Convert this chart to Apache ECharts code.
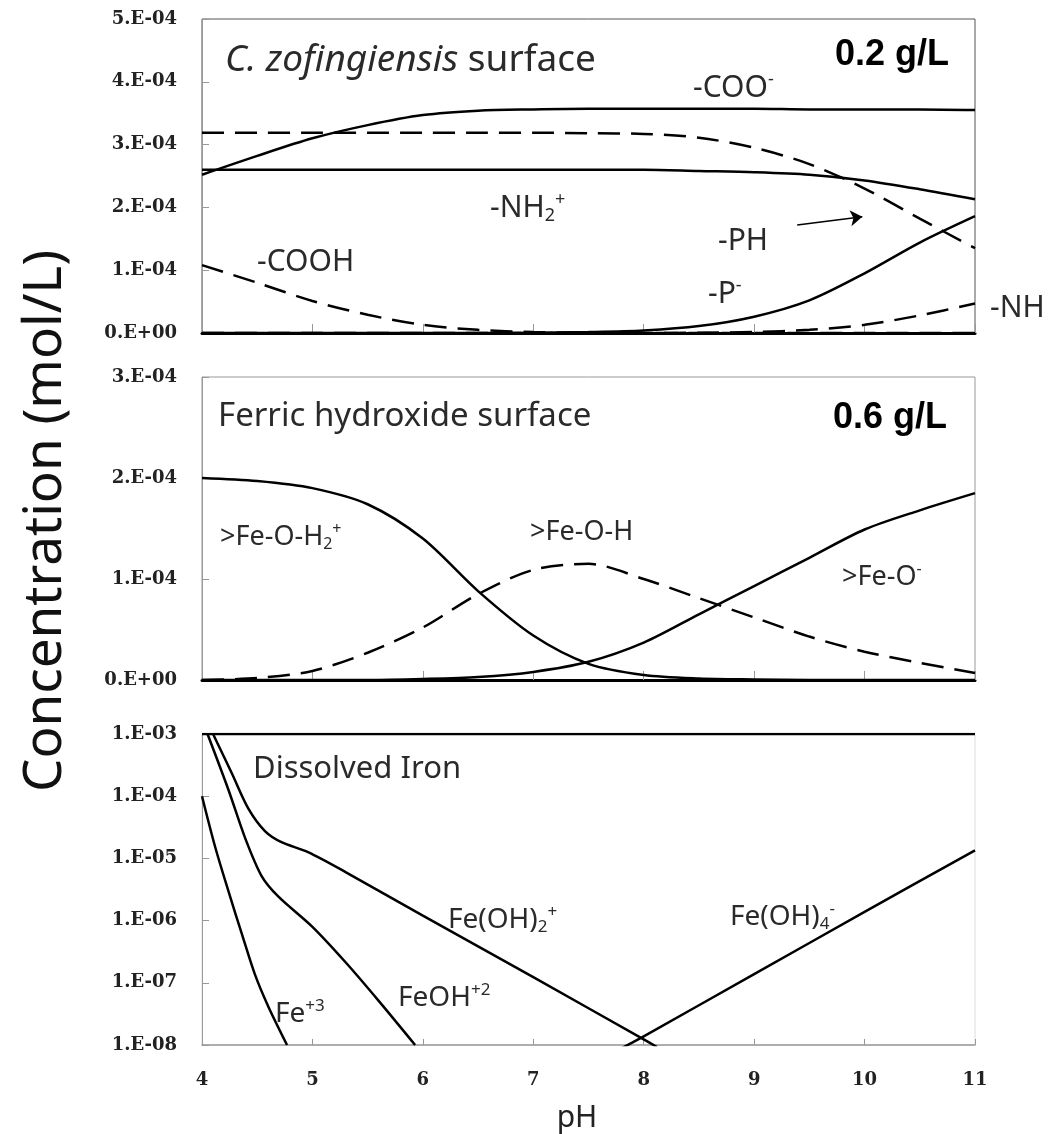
<!DOCTYPE html>
<html>
<head>
<meta charset="utf-8">
<title>Surface and dissolved iron speciation vs pH</title>
<script src="https://cdn.jsdelivr.net/npm/echarts@6/dist/echarts.min.js"></script>
<style>
    html, body { margin: 0; padding: 0; background: #fff; }
    #chart { width: 1050px; height: 1134px; }
</style>
</head>
<body>
<div id="chart"></div>
<script>
// pH grid used by the two surface panels
var pH = [4, 4.5, 5, 5.5, 6, 6.5, 7, 7.5, 8, 8.5, 9, 9.5, 10, 10.5, 11];

// panel 1, C. zofingiensis surface (units of 1E-04 mol/L)
var coo    = [2.52, 2.82, 3.10, 3.31, 3.47, 3.54, 3.56, 3.57, 3.57, 3.57, 3.57, 3.56, 3.56, 3.56, 3.55];
var phGrp  = [3.19, 3.19, 3.19, 3.19, 3.19, 3.19, 3.19, 3.18, 3.17, 3.11, 2.95, 2.69, 2.30, 1.82, 1.35];
var nh2    = [2.60, 2.60, 2.60, 2.60, 2.60, 2.60, 2.60, 2.60, 2.60, 2.58, 2.56, 2.52, 2.43, 2.29, 2.13];
var pMinus = [0, 0, 0, 0, 0, 0, 0.005, 0.015, 0.04, 0.11, 0.26, 0.52, 0.95, 1.44, 1.86];
var nh     = [0, 0, 0, 0, 0, 0, 0, 0, 0, 0.005, 0.015, 0.05, 0.13, 0.28, 0.47];
var cooh   = [1.08, 0.80, 0.51, 0.29, 0.13, 0.05, 0.015, 0.005, 0, 0, 0, 0, 0, 0, 0];

// panel 2, ferric hydroxide surface (units of 1E-04 mol/L)
var feOH2 = [2.00, 1.97, 1.90, 1.74, 1.40, 0.88, 0.44, 0.16, 0.05, 0.015, 0.005, 0, 0, 0, 0];
var feOH  = [0, 0.02, 0.09, 0.27, 0.52, 0.85, 1.09, 1.15, 1.00, 0.81, 0.62, 0.43, 0.28, 0.17, 0.07];
var feO   = [0, 0, 0, 0, 0.01, 0.03, 0.08, 0.18, 0.37, 0.65, 0.93, 1.21, 1.49, 1.68, 1.85];

// panel 3, dissolved iron (mol/L, log scale)
var pHTotal = [4, 11];
var total   = [1e-3, 1e-3];
var pHFe3 = [4.0, 4.12, 4.24, 4.36, 4.48, 4.6, 4.77];
var fe3   = [1.0e-4, 1.51e-5, 2.95e-6, 6.17e-7, 1.35e-7, 4.17e-8, 1.0e-8];
var pHFeOH = [4.05, 4.24, 4.39, 4.54, 4.69, 5.0, 5.3, 5.6, 5.93];
var feOHp2 = [1.0e-3, 1.26e-4, 2.14e-5, 5.2e-6, 2.45e-6, 7.94e-7, 2.14e-7, 5.13e-8, 1.0e-8];
var pHFeOH2 = [4.1, 4.27, 4.42, 4.57, 4.72, 4.96, 5.3, 6.0, 7.0, 8.0, 8.12];
var feOH2p  = [1.0e-3, 2.34e-4, 6.31e-5, 2.75e-5, 1.82e-5, 1.26e-5, 6.03e-6, 1.20e-6, 1.23e-7, 1.23e-8, 9.3e-9];
var pHFeOH4 = [7.8, 8, 9, 10, 11];
var feOH4m  = [8.9e-9, 1.38e-8, 1.38e-7, 1.38e-6, 1.35e-5];

// tick labels
var yTicks1 = ['0.E+00', '1.E-04', '2.E-04', '3.E-04', '4.E-04', '5.E-04'];
var yTicks2 = ['0.E+00', '1.E-04', '2.E-04', '3.E-04'];
var yTicks3 = ['1.E-08', '1.E-07', '1.E-06', '1.E-05', '1.E-04', '1.E-03'];
var xTicks  = ['4', '5', '6', '7', '8', '9', '10', '11'];

var SANS = '"Noto Sans", "Open Sans", sans-serif';
var SERIF = '"DejaVu Serif", serif';
var BOLD = '"Liberation Sans", Arial, sans-serif';

var chart = echarts.init(document.getElementById('chart'));

function curve(name, xs, ys, panel, dashed) {
    return {
        name: name,
        type: 'line',
        xAxisIndex: panel,
        yAxisIndex: panel,
        data: xs.map(function (x, i) { return [x, ys[i]]; }),
        showSymbol: false,
        smooth: 0.3,
        clip: true,
        lineStyle: { color: '#000', width: 2.5, type: dashed ? [22, 11] : 'solid' },
        z: 3
    };
}

function tickLabels(list) {
    return function (value, index) { return list[index]; };
}

function xAxis(panel, withLabels) {
    return {
        type: 'value', gridIndex: panel, min: 4, max: 11, interval: 1,
        axisLine: { onZero: false, lineStyle: withLabels ? { color: '#999', width: 1.5 } : { color: '#000', width: 3 } },
        axisTick: { inside: true, length: withLabels ? 6 : 9, lineStyle: { color: '#999' } },
        axisLabel: {
            show: withLabels, margin: 26,
            fontFamily: SERIF, fontWeight: 'bold', fontSize: 18, color: '#222',
            formatter: tickLabels(xTicks)
        },
        splitLine: { show: false },
        name: withLabels ? 'pH' : '',
        nameLocation: 'middle', nameGap: 58,
        nameTextStyle: { fontFamily: SANS, fontSize: 30, color: '#222', padding: [0, 23, 0, 0] }
    };
}

function yAxis(panel, labels, max) {
    return {
        type: 'value', gridIndex: panel, min: 0, max: max, interval: 1,
        axisLine: { show: true, lineStyle: { color: '#999', width: 1 } },
        axisTick: { show: true, inside: true, length: 7, lineStyle: { color: '#999' } },
        axisLabel: {
            margin: 25, fontFamily: SERIF, fontWeight: 'bold', fontSize: 18, color: '#222',
            formatter: tickLabels(labels)
        },
        splitLine: { show: false }
    };
}

function text(str, x, y, size, extra) {
    var style = {
        text: str, x: 0, y: 0,
        fontFamily: SANS, fontSize: size, lineHeight: size + 4,
        fill: '#2a2a2a', align: 'left', verticalAlign: 'middle',
        rich: {
            i: { fontFamily: SANS, fontSize: size, fontStyle: 'italic', fill: '#2a2a2a', lineHeight: size + 4 },
            sup: { fontFamily: SANS, fontSize: Math.round(size * 0.6), fill: '#2a2a2a', lineHeight: Math.round(size * 0.55), verticalAlign: 'top' },
            sub: { fontFamily: SANS, fontSize: Math.round(size * 0.6), fill: '#2a2a2a', lineHeight: Math.round(size * 0.55), verticalAlign: 'bottom' }
        }
    };
    if (extra) Object.assign(style, extra);
    return { type: 'text', x: x, y: y, silent: true, z: 10, style: style };
}

var option = {
    backgroundColor: '#fff',
    animation: false,
    grid: [
        { left: 202, top: 19, width: 773, height: 314, show: true, borderColor: '#555', borderWidth: 1 },
        { left: 202, top: 377, width: 773, height: 303, show: true, borderColor: '#999', borderWidth: 1 },
        { left: 202, top: 734, width: 773, height: 324, show: true, borderColor: '#ddd', borderWidth: 1 }
    ],
    xAxis: [xAxis(0, false), xAxis(1, false), xAxis(2, true)],
    yAxis: [
        yAxis(0, yTicks1, 5),
        yAxis(1, yTicks2, 3),
        {
            type: 'log', logBase: 10, gridIndex: 2, min: 1e-8, max: 1e-3,
            axisLine: { show: true, lineStyle: { color: '#999', width: 1 } },
            axisTick: { show: true, inside: true, length: 7, lineStyle: { color: '#999' } },
            axisLabel: {
                margin: 25, fontFamily: SERIF, fontWeight: 'bold', fontSize: 18, color: '#222',
                formatter: tickLabels(yTicks3)
            },
            minorTick: { show: false },
            splitLine: { show: false }
        }
    ],
    series: [
        curve('-COO-', pH, coo, 0, false),
        Object.assign(curve('-PH', pH, phGrp, 0, true), {
            markLine: {
                silent: true,
                symbol: ['none', 'arrow'],
                symbolSize: 12,
                label: { show: false },
                lineStyle: { color: '#000', width: 1.5, type: 'solid' },
                data: [[{ coord: [9.39, 1.72] }, { coord: [9.98, 1.85] }]]
            }
        }),
        curve('-NH2+', pH, nh2, 0, false),
        curve('-P-', pH, pMinus, 0, false),
        curve('-NH', pH, nh, 0, true),
        curve('-COOH', pH, cooh, 0, true),

        curve('>Fe-O-H2+', pH, feOH2, 1, false),
        curve('>Fe-O-H', pH, feOH, 1, true),
        curve('>Fe-O-', pH, feO, 1, false),

        curve('Total', pHTotal, total, 2, false),
        curve('Fe+3', pHFe3, fe3, 2, false),
        curve('FeOH+2', pHFeOH, feOHp2, 2, false),
        curve('Fe(OH)2+', pHFeOH2, feOH2p, 2, false),
        curve('Fe(OH)4-', pHFeOH4, feOH4m, 2, false)
    ],
    graphic: [
        // y axis title
        Object.assign(text('Concentration (mol/L)', 46, 521, 53, { align: 'center', fill: '#111' }), { rotation: Math.PI / 2 }),

        // panel 1
        text('{i|C. zofingiensis} surface', 225, 60, 37),
        text('0.2 g/L', 835, 55, 36, { fontFamily: BOLD, fontWeight: 'bold', fill: '#000' }),
        text('-COO{sup|-}', 693, 88, 30),
        text('-NH{sub|2}{sup|+}', 490, 208, 30),
        text('-PH', 718, 241, 30),
        text('-P{sup|-}', 708, 294, 30),
        text('-NH', 990, 308, 30),
        text('-COOH', 257, 262, 30),

        // panel 2
        text('Ferric hydroxide surface', 218, 417, 33),
        text('0.6 g/L', 833, 418, 36, { fontFamily: BOLD, fontWeight: 'bold', fill: '#000' }),
        text('>Fe-O-H{sub|2}{sup|+}', 220, 537, 27),
        text('>Fe-O-H', 530, 532, 27),
        text('>Fe-O{sup|-}', 842, 577, 27),

        // panel 3
        text('Dissolved Iron', 253, 769, 31),
        text('Fe(OH){sub|2}{sup|+}', 448, 920, 28),
        text('FeOH{sup|+2}', 398, 998, 28),
        text('Fe{sup|+3}', 275, 1014, 28),
        text('Fe(OH){sub|4}{sup|-}', 730, 917, 28)
    ]
};

chart.setOption(option);
</script>
</body>
</html>
